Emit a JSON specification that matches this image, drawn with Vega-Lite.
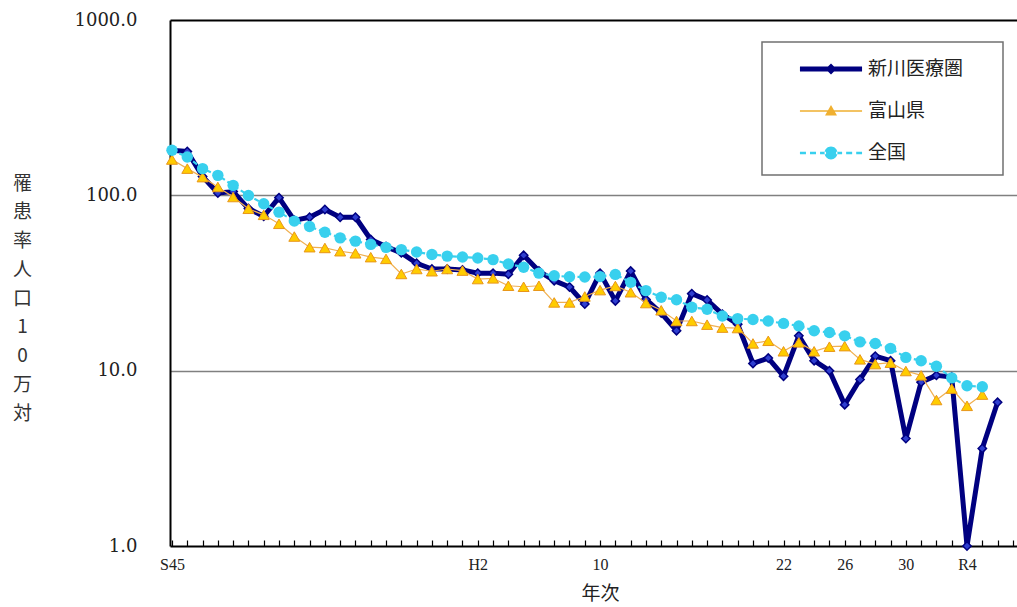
{
  "$schema": "https://vega.github.io/schema/vega-lite/v6.json",
  "width": 847,
  "height": 526,
  "autosize": {"type": "none"},
  "padding": {"left": 170, "top": 20, "right": 0, "bottom": 61},
  "background": "white",
  "config": {"view": {"stroke": null}},
  "data": {"values": [
    {"series":"新川医療圏","year":1970,"value":181},{"series":"新川医療圏","year":1971,"value":178},{"series":"新川医療圏","year":1972,"value":128},{"series":"新川医療圏","year":1973,"value":103},{"series":"新川医療圏","year":1974,"value":105},{"series":"新川医療圏","year":1975,"value":84},{"series":"新川医療圏","year":1976,"value":76},{"series":"新川医療圏","year":1977,"value":97},{"series":"新川医療圏","year":1978,"value":72},{"series":"新川医療圏","year":1979,"value":75},
    {"series":"新川医療圏","year":1980,"value":83},{"series":"新川医療圏","year":1981,"value":75},{"series":"新川医療圏","year":1982,"value":75},{"series":"新川医療圏","year":1983,"value":56},{"series":"新川医療圏","year":1984,"value":51},{"series":"新川医療圏","year":1985,"value":47},{"series":"新川医療圏","year":1986,"value":41},{"series":"新川医療圏","year":1987,"value":38},{"series":"新川医療圏","year":1988,"value":38},{"series":"新川医療圏","year":1989,"value":37.5},
    {"series":"新川医療圏","year":1990,"value":36},{"series":"新川医療圏","year":1991,"value":36},{"series":"新川医療圏","year":1992,"value":35.5},{"series":"新川医療圏","year":1993,"value":45.5},{"series":"新川医療圏","year":1994,"value":37},{"series":"新川医療圏","year":1995,"value":32.6},{"series":"新川医療圏","year":1996,"value":30},{"series":"新川医療圏","year":1997,"value":24},{"series":"新川医療圏","year":1998,"value":36},{"series":"新川医療圏","year":1999,"value":25},
    {"series":"新川医療圏","year":2000,"value":37},{"series":"新川医療圏","year":2001,"value":25.5},{"series":"新川医療圏","year":2002,"value":21.3},{"series":"新川医療圏","year":2003,"value":16.9},{"series":"新川医療圏","year":2004,"value":27.5},{"series":"新川医療圏","year":2005,"value":25.3},{"series":"新川医療圏","year":2006,"value":21},{"series":"新川医療圏","year":2007,"value":18.4},{"series":"新川医療圏","year":2008,"value":11},{"series":"新川医療圏","year":2009,"value":11.8},
    {"series":"新川医療圏","year":2010,"value":9.3},{"series":"新川医療圏","year":2011,"value":15.8},{"series":"新川医療圏","year":2012,"value":11.4},{"series":"新川医療圏","year":2013,"value":10},{"series":"新川医療圏","year":2014,"value":6.4},{"series":"新川医療圏","year":2015,"value":8.9},{"series":"新川医療圏","year":2016,"value":12.1},{"series":"新川医療圏","year":2017,"value":11.4},{"series":"新川医療圏","year":2018,"value":4.1},{"series":"新川医療圏","year":2019,"value":8.6},
    {"series":"新川医療圏","year":2020,"value":9.4},{"series":"新川医療圏","year":2021,"value":9.2},{"series":"新川医療圏","year":2022,"value":1.0},{"series":"新川医療圏","year":2023,"value":3.6},{"series":"新川医療圏","year":2024,"value":6.6},
    {"series":"富山県","year":1970,"value":160},{"series":"富山県","year":1971,"value":142},{"series":"富山県","year":1972,"value":127},{"series":"富山県","year":1973,"value":111.6},{"series":"富山県","year":1974,"value":97.8},{"series":"富山県","year":1975,"value":83.8},{"series":"富山県","year":1976,"value":77.4},{"series":"富山県","year":1977,"value":68.8},{"series":"富山県","year":1978,"value":58.2},{"series":"富山県","year":1979,"value":50.6},
    {"series":"富山県","year":1980,"value":50.1},{"series":"富山県","year":1981,"value":48},{"series":"富山県","year":1982,"value":46.7},{"series":"富山県","year":1983,"value":44.4},{"series":"富山県","year":1984,"value":43.4},{"series":"富山県","year":1985,"value":35.6},{"series":"富山県","year":1986,"value":38},{"series":"富山県","year":1987,"value":36.9},{"series":"富山県","year":1988,"value":38},{"series":"富山県","year":1989,"value":37.2},
    {"series":"富山県","year":1990,"value":33.3},{"series":"富山県","year":1991,"value":33.6},{"series":"富山県","year":1992,"value":30.5},{"series":"富山県","year":1993,"value":30.1},{"series":"富山県","year":1994,"value":30.5},{"series":"富山県","year":1995,"value":24.5},{"series":"富山県","year":1996,"value":24.5},{"series":"富山県","year":1997,"value":26.5},{"series":"富山県","year":1998,"value":28.8},{"series":"富山県","year":1999,"value":30.4},
    {"series":"富山県","year":2000,"value":28},{"series":"富山県","year":2001,"value":24.3},{"series":"富山県","year":2002,"value":22.1},{"series":"富山県","year":2003,"value":19.2},{"series":"富山県","year":2004,"value":19.2},{"series":"富山県","year":2005,"value":18.3},{"series":"富山県","year":2006,"value":17.6},{"series":"富山県","year":2007,"value":17.5},{"series":"富山県","year":2008,"value":14.3},{"series":"富山県","year":2009,"value":14.8},
    {"series":"富山県","year":2010,"value":12.9},{"series":"富山県","year":2011,"value":14.5},{"series":"富山県","year":2012,"value":12.9},{"series":"富山県","year":2013,"value":13.7},{"series":"富山県","year":2014,"value":13.8},{"series":"富山県","year":2015,"value":11.6},{"series":"富山県","year":2016,"value":10.9},{"series":"富山県","year":2017,"value":11.1},{"series":"富山県","year":2018,"value":9.95},{"series":"富山県","year":2019,"value":9.4},
    {"series":"富山県","year":2020,"value":6.8},{"series":"富山県","year":2021,"value":7.9},{"series":"富山県","year":2022,"value":6.3},{"series":"富山県","year":2023,"value":7.3},
    {"series":"全国","year":1970,"value":180.7},{"series":"全国","year":1971,"value":165.6},{"series":"全国","year":1972,"value":142},{"series":"全国","year":1973,"value":130},{"series":"全国","year":1974,"value":114},{"series":"全国","year":1975,"value":99.8},{"series":"全国","year":1976,"value":89.5},{"series":"全国","year":1977,"value":80.2},{"series":"全国","year":1978,"value":71.3},{"series":"全国","year":1979,"value":66.4},
    {"series":"全国","year":1980,"value":61.6},{"series":"全国","year":1981,"value":57.2},{"series":"全国","year":1982,"value":54.8},{"series":"全国","year":1983,"value":52.5},{"series":"全国","year":1984,"value":50.5},{"series":"全国","year":1985,"value":49},{"series":"全国","year":1986,"value":47.5},{"series":"全国","year":1987,"value":46},{"series":"全国","year":1988,"value":45},{"series":"全国","year":1989,"value":44.5},
    {"series":"全国","year":1990,"value":43.9},{"series":"全国","year":1991,"value":43},{"series":"全国","year":1992,"value":40.6},{"series":"全国","year":1993,"value":38.9},{"series":"全国","year":1994,"value":36},{"series":"全国","year":1995,"value":34.8},{"series":"全国","year":1996,"value":34.3},{"series":"全国","year":1997,"value":34.2},{"series":"全国","year":1998,"value":34.4},{"series":"全国","year":1999,"value":35.4},
    {"series":"全国","year":2000,"value":31.9},{"series":"全国","year":2001,"value":28.6},{"series":"全国","year":2002,"value":26.2},{"series":"全国","year":2003,"value":25.4},{"series":"全国","year":2004,"value":23},{"series":"全国","year":2005,"value":22.4},{"series":"全国","year":2006,"value":20.5},{"series":"全国","year":2007,"value":19.8},{"series":"全国","year":2008,"value":19.6},{"series":"全国","year":2009,"value":19.2},
    {"series":"全国","year":2010,"value":18.6},{"series":"全国","year":2011,"value":18},{"series":"全国","year":2012,"value":16.9},{"series":"全国","year":2013,"value":16.5},{"series":"全国","year":2014,"value":15.8},{"series":"全国","year":2015,"value":14.6},{"series":"全国","year":2016,"value":14.3},{"series":"全国","year":2017,"value":13.4},{"series":"全国","year":2018,"value":11.9},{"series":"全国","year":2019,"value":11.4},
    {"series":"全国","year":2020,"value":10.6},{"series":"全国","year":2021,"value":9.1},{"series":"全国","year":2022,"value":8.2},{"series":"全国","year":2023,"value":8.1}
  ]},
  "encoding": {
    "x": {
      "field": "year", "type": "quantitative",
      "scale": {"domain": [1969.87, 2025.27], "nice": false, "zero": false},
      "axis": {
        "values": [1970,1971,1972,1973,1974,1975,1976,1977,1978,1979,1980,1981,1982,1983,1984,1985,1986,1987,1988,1989,1990,1991,1992,1993,1994,1995,1996,1997,1998,1999,2000,2001,2002,2003,2004,2005,2006,2007,2008,2009,2010,2011,2012,2013,2014,2015,2016,2017,2018,2019,2020,2021,2022,2023,2024,2025],
        "labelExpr": "indexof([1970,1990,1998,2010,2014,2018,2022], datum.value) < 0 ? '' : (datum.value < 1989 ? 'S' + (datum.value - 1925) : (datum.value < 1994 ? 'H' + (datum.value - 1988) : (datum.value < 2019 ? '' + (datum.value - 1988) : 'R' + (datum.value - 2018))))",
        "labelFont": "Liberation Serif", "labelFontSize": 16, "labelColor": "#222",
        "labelPadding": 10, "labelOverlap": false, "labelFlush": false, "labelBaseline": "top",
        "ticks": false,
        "grid": true, "gridColor": "#000", "gridWidth": 1.2, "gridDash": [0, 520, 6, 1000],
        "domainColor": "#000", "domainWidth": 2,
        "title": "年次", "titleFont": "Noto Sans CJK JP", "titleFontSize": 19, "titleFontWeight": "normal",
        "titleColor": "#222", "titleX": 430, "titleY": 47, "titleBaseline": "middle", "titleAlign": "center"
      }
    },
    "y": {
      "field": "value", "type": "quantitative",
      "scale": {"type": "log", "domain": [1, 1000], "nice": false},
      "axis": {
        "values": [1, 10, 100, 1000], "format": ".1f",
        "labelFont": "DejaVu Serif", "labelFontSize": 18, "labelColor": "#222", "labelPadding": 33,
        "ticks": false, "domainColor": "#000", "domainWidth": 2,
        "grid": true,
        "gridColor": {"condition": [{"test": "datum.value === 1000", "value": "#000"}, {"test": "datum.value === 1", "value": "transparent"}], "value": "#808080"},
        "gridWidth": {"condition": {"test": "datum.value === 1000", "value": 2}, "value": 1.6},
        "title": ["罹","患","率","人","口","1","0","万","対"],
        "titleFont": "Noto Sans CJK JP", "titleFontSize": 19, "titleFontWeight": "normal", "titleColor": "#333",
        "titleAngle": 0, "titleLineHeight": 28.75, "titleAlign": "center", "titleBaseline": "middle",
        "titleX": -148, "titleY": 163
      }
    }
  },
  "layer": [
    {"transform": [{"filter": "datum.series === '新川医療圏'"}], "mark": {"type": "line", "color": "#000080", "strokeWidth": 5, "strokeJoin": "round"}, "encoding": {}},
    {"transform": [{"filter": "datum.series === '新川医療圏'"}], "mark": {"type": "point", "shape": "diamond", "filled": true, "size": 70, "fill": "#2f3fd0", "stroke": "#000080", "strokeWidth": 1.5, "opacity": 1}},
    {"transform": [{"filter": "datum.series === '富山県'"}], "mark": {"type": "line", "color": "#f0b050", "strokeWidth": 1.2}, "encoding": {}},
    {"transform": [{"filter": "datum.series === '富山県'"}], "mark": {"type": "point", "shape": "triangle-up", "filled": true, "size": 120, "fill": "#ffcc00", "stroke": "#e8961a", "strokeWidth": 1, "opacity": 1}},
    {"transform": [{"filter": "datum.series === '全国'"}], "mark": {"type": "line", "color": "#38d0ee", "strokeWidth": 2.2, "strokeDash": [5, 3]}, "encoding": {}},
    {"transform": [{"filter": "datum.series === '全国'"}], "mark": {"type": "point", "shape": "circle", "filled": true, "size": 130, "fill": "#38d0ee", "strokeWidth": 0, "opacity": 1}},
    {
      "mark": {"type": "point", "filled": true, "opacity": 0},
      "encoding": {
        "color": {
          "field": "series", "type": "nominal",
          "scale": {"domain": ["新川医療圏", "富山県", "全国"], "range": ["#000080", "#f0b030", "#38d0ee"]},
          "legend": {
            "title": "　", "titleOrient": "right", "titleFontSize": 18, "titlePadding": 28, "titleFont": "Noto Sans CJK JP",
            "orient": "none", "legendX": 592, "legendY": 22, "padding": 12,
            "strokeColor": "#707070", "fillColor": "white",
            "symbolSize": 900, "symbolStrokeWidth": 0, "symbolOpacity": 1,
            "labelFont": "Noto Sans CJK JP", "labelFontSize": 19, "labelColor": "#222",
            "labelOffset": 64, "rowPadding": 17,
            "encode": {"legend": {"update": {"strokeWidth": {"value": 1.5}}}}
          }
        },
        "shape": {
          "field": "series", "type": "nominal",
          "scale": {"domain": ["新川医療圏", "富山県", "全国"], "range": [
            "M0.73,-0.17H4.87V0.17H0.73Z M2.8,-0.37L3.17,0L2.8,0.37L2.43,0Z",
            "M0.73,-0.05H4.87V0.05H0.73Z M2.8,-0.4L3.2,0.3H2.4Z",
            "M0.73,-0.08H1.13V0.08H0.73Z M1.4,-0.08H1.8V0.08H1.4Z M2.07,-0.08H2.47V0.08H2.07Z M3.14,-0.08H3.54V0.08H3.14Z M3.81,-0.08H4.21V0.08H3.81Z M4.48,-0.08H4.87V0.08H4.48Z M2.37,0A0.43,0.43 0 1,0 3.23,0A0.43,0.43 0 1,0 2.37,0Z"
          ]}
        }
      }
    }
  ]
}
